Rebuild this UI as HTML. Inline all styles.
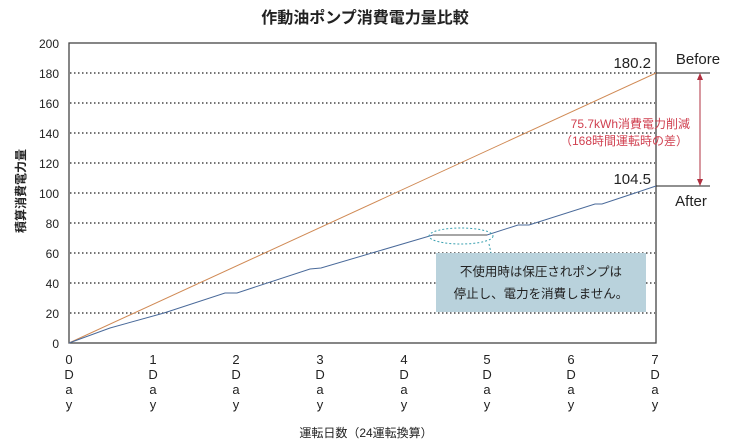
<!DOCTYPE html>
<html><head><meta charset="utf-8"><style>
body{margin:0;background:#fff;width:731px;height:446px;overflow:hidden}
svg{display:block}
text{font-family:"Liberation Sans","Noto Sans CJK JP",sans-serif}
</style></head><body>
<svg width="731" height="446" viewBox="0 0 731 446">
<text x="365" y="23" text-anchor="middle" font-size="16" font-weight="bold" fill="#222">作動油ポンプ消費電力量比較</text>
<g stroke="#222" stroke-width="1.2" stroke-dasharray="1.5,2.5">
<line x1="70" y1="73" x2="655" y2="73"/><line x1="70" y1="103" x2="655" y2="103"/>
<line x1="70" y1="133" x2="655" y2="133"/><line x1="70" y1="163" x2="655" y2="163"/>
<line x1="70" y1="193" x2="655" y2="193"/><line x1="70" y1="223" x2="655" y2="223"/>
<line x1="70" y1="253" x2="655" y2="253"/><line x1="70" y1="283" x2="655" y2="283"/>
<line x1="70" y1="313" x2="655" y2="313"/>
</g>
<rect x="436" y="253" width="210" height="59" fill="#b9d2dc"/>
<text x="541" y="276" text-anchor="middle" font-size="12.5" fill="#222">不使用時は保圧されポンプは</text>
<text x="541" y="298" text-anchor="middle" font-size="12.5" fill="#222">停止し、電力を消費しません。</text>
<rect x="69" y="43" width="587" height="300" fill="none" stroke="#444" stroke-width="1.3"/>
<line x1="69" y1="343" x2="656" y2="73" stroke="#d08a55" stroke-width="1"/>
<polyline fill="none" stroke="#4a6a9a" stroke-width="1" points="69,343 110,328 164,313 225,293 237,293 310,269 321,268 433,235 487,235 518,225 529,225 595,204 602,204 656,186"/>
<line x1="433" y1="235" x2="487" y2="235" stroke="#888" stroke-width="1.5"/>
<ellipse cx="461" cy="236" rx="32" ry="8" fill="none" stroke="#3aa0b0" stroke-width="1" stroke-dasharray="2,2"/>
<line x1="489" y1="244" x2="491" y2="253" stroke="#3aa0b0" stroke-dasharray="2,2"/>
<line x1="656" y1="73" x2="710" y2="73" stroke="#222"/>
<line x1="656" y1="186" x2="710" y2="186" stroke="#222"/>
<line x1="700" y1="78" x2="700" y2="181" stroke="#b03040" stroke-width="1"/>
<polygon points="700,73 697,80 703,80" fill="#b03040"/>
<polygon points="700,186 697,179 703,179" fill="#b03040"/>
<text x="651" y="68" text-anchor="end" font-size="15" fill="#222">180.2</text>
<text x="651" y="184" text-anchor="end" font-size="15" fill="#222">104.5</text>
<text x="698" y="64" text-anchor="middle" font-size="15" fill="#222">Before</text>
<text x="691" y="206" text-anchor="middle" font-size="15" fill="#222">After</text>
<text x="690" y="128" text-anchor="end" font-size="12" fill="#d04050">75.7kWh消費電力削減</text>
<text x="688" y="145" text-anchor="end" font-size="12" fill="#d04050">（168時間運転時の差）</text>
<g font-size="12" fill="#222" text-anchor="end">
<text x="59" y="48">200</text><text x="59" y="78">180</text><text x="59" y="108">160</text>
<text x="59" y="138">140</text><text x="59" y="168">120</text><text x="59" y="198">100</text>
<text x="59" y="228">80</text><text x="59" y="258">60</text><text x="59" y="288">40</text>
<text x="59" y="318">20</text><text x="59" y="348">0</text>
</g>
<g font-size="13" fill="#222" text-anchor="middle">
<g transform="translate(69,0)"><text y="364">0</text><text y="379">D</text><text y="394">a</text><text y="409">y</text></g>
<g transform="translate(153,0)"><text y="364">1</text><text y="379">D</text><text y="394">a</text><text y="409">y</text></g>
<g transform="translate(236,0)"><text y="364">2</text><text y="379">D</text><text y="394">a</text><text y="409">y</text></g>
<g transform="translate(320,0)"><text y="364">3</text><text y="379">D</text><text y="394">a</text><text y="409">y</text></g>
<g transform="translate(404,0)"><text y="364">4</text><text y="379">D</text><text y="394">a</text><text y="409">y</text></g>
<g transform="translate(487,0)"><text y="364">5</text><text y="379">D</text><text y="394">a</text><text y="409">y</text></g>
<g transform="translate(571,0)"><text y="364">6</text><text y="379">D</text><text y="394">a</text><text y="409">y</text></g>
<g transform="translate(655,0)"><text y="364">7</text><text y="379">D</text><text y="394">a</text><text y="409">y</text></g>
</g>
<text x="366" y="437" text-anchor="middle" font-size="12" fill="#222">運転日数（24運転換算）</text>
<text transform="translate(25,191) rotate(-90)" text-anchor="middle" font-size="12" font-weight="bold" fill="#222">積算消費電力量</text>
</svg>
</body></html>
